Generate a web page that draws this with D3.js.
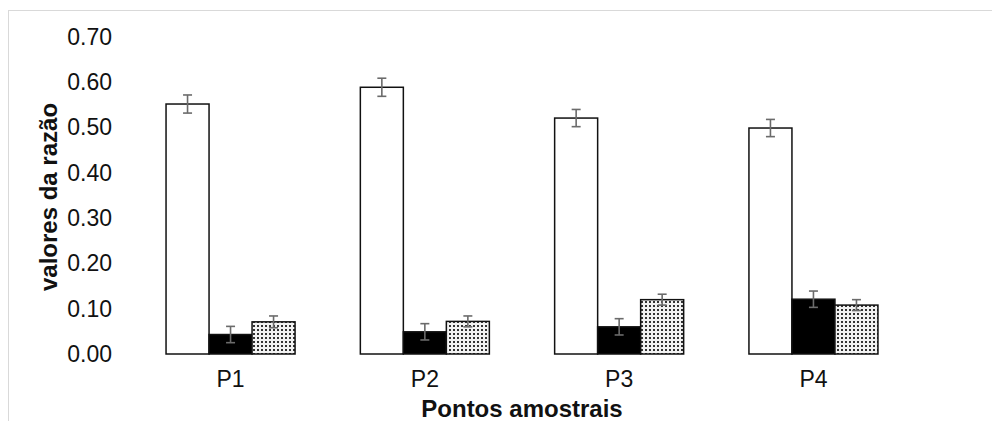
<!DOCTYPE html>
<html>
<head>
<meta charset="utf-8">
<script src="https://cdn.jsdelivr.net/npm/d3@7"></script>
<style>
  html, body { margin: 0; padding: 0; background: #fff; }
  svg { display: block; font-family: "Liberation Sans", Arial, sans-serif; }
</style>
</head>
<body>
<svg id="chart" width="992" height="421"></svg>
<script>
// Sampling points and ratio values per series
const categories = ["P1", "P2", "P3", "P4"];
const seriesNames = ["s1", "s2", "s3"];
const valuesS1 = [0.552, 0.589, 0.521, 0.499];
const valuesS2 = [0.043, 0.049, 0.060, 0.121];
const valuesS3 = [0.071, 0.072, 0.120, 0.108];
const errorS1 = [0.020, 0.020, 0.019, 0.019];
const errorS2 = [0.018, 0.018, 0.018, 0.018];
const errorS3 = [0.013, 0.012, 0.012, 0.012];
const yTicks = [0, 0.1, 0.2, 0.3, 0.4, 0.5, 0.6, 0.7];

const seriesValues = [valuesS1, valuesS2, valuesS3];
const seriesErrors = [errorS1, errorS2, errorS3];

const rows = [];
categories.forEach((c, i) => {
  seriesNames.forEach((s, j) => {
    rows.push({ cat: c, series: s, value: seriesValues[j][i], err: seriesErrors[j][i] });
  });
});

const svg = d3.select("#chart");

// outer chart frame
svg.append("rect")
  .attr("x", 8.5).attr("y", 10.5)
  .attr("width", 1000).attr("height", 500)
  .attr("fill", "none").attr("stroke", "#d9d9d9").attr("stroke-width", 1);

// dotted fill for the third series
const defs = svg.append("defs");
const pat = defs.append("pattern")
  .attr("id", "dots").attr("patternUnits", "userSpaceOnUse")
  .attr("width", 4).attr("height", 4);
pat.append("rect").attr("width", 4).attr("height", 4).attr("fill", "#f2f2f2");
pat.append("rect").attr("x", 1).attr("y", 1).attr("width", 2).attr("height", 2).attr("fill", "#333");

const x0 = d3.scaleBand()
  .domain(categories)
  .range([133.4, 910.6])
  .paddingInner(0.336)
  .paddingOuter(0.168);

const x1 = d3.scaleBand()
  .domain(seriesNames)
  .range([0, x0.bandwidth()]);

const y = d3.scaleLinear().domain([0, 0.7]).range([354, 37]);

const fills = { s1: "#ffffff", s2: "#000000", s3: "url(#dots)" };

// y axis (labels only)
const yAxis = svg.append("g")
  .attr("transform", "translate(112,0)")
  .call(d3.axisLeft(y).tickValues(yTicks).tickFormat(d3.format(".2f")).tickSize(0).tickPadding(0));
yAxis.select(".domain").remove();
yAxis.selectAll("text")
  .attr("font-size", 23).attr("fill", "#111")
  .attr("font-family", "Liberation Sans, Arial, sans-serif");

// x axis (labels only)
const xAxis = svg.append("g")
  .attr("transform", "translate(0,371)")
  .call(d3.axisBottom(x0).tickSize(0).tickPadding(0));
xAxis.select(".domain").remove();
xAxis.selectAll("text")
  .attr("font-size", 23).attr("fill", "#111")
  .attr("font-family", "Liberation Sans, Arial, sans-serif");

// bars
svg.append("g").selectAll("rect")
  .data(rows)
  .join("rect")
  .attr("x", d => x0(d.cat) + x1(d.series))
  .attr("y", d => y(d.value))
  .attr("width", x1.bandwidth())
  .attr("height", d => y(0) - y(d.value))
  .attr("fill", d => fills[d.series])
  .attr("stroke", "#111")
  .attr("stroke-width", 1.5);

// error bars
const eb = svg.append("g")
  .attr("stroke", "#6b6b6b").attr("stroke-width", 1.6).attr("fill", "none");
rows.forEach(d => {
  const cx = x0(d.cat) + x1(d.series) + x1.bandwidth() / 2;
  const yTop = y(d.value + d.err), yBot = y(d.value - d.err);
  eb.append("line").attr("x1", cx).attr("x2", cx).attr("y1", yTop).attr("y2", yBot);
  eb.append("line").attr("x1", cx - 4.5).attr("x2", cx + 4.5).attr("y1", yTop).attr("y2", yTop);
  eb.append("line").attr("x1", cx - 4.5).attr("x2", cx + 4.5).attr("y1", yBot).attr("y2", yBot);
});

// axis titles
svg.append("text")
  .attr("transform", "translate(57,197) rotate(-90)")
  .attr("text-anchor", "middle")
  .attr("font-size", 24).attr("font-weight", "bold").attr("fill", "#111")
  .text("valores da razão");

svg.append("text")
  .attr("x", 522).attr("y", 417)
  .attr("text-anchor", "middle")
  .attr("font-size", 24).attr("font-weight", "bold").attr("fill", "#111")
  .text("Pontos amostrais");
</script>
</body>
</html>
